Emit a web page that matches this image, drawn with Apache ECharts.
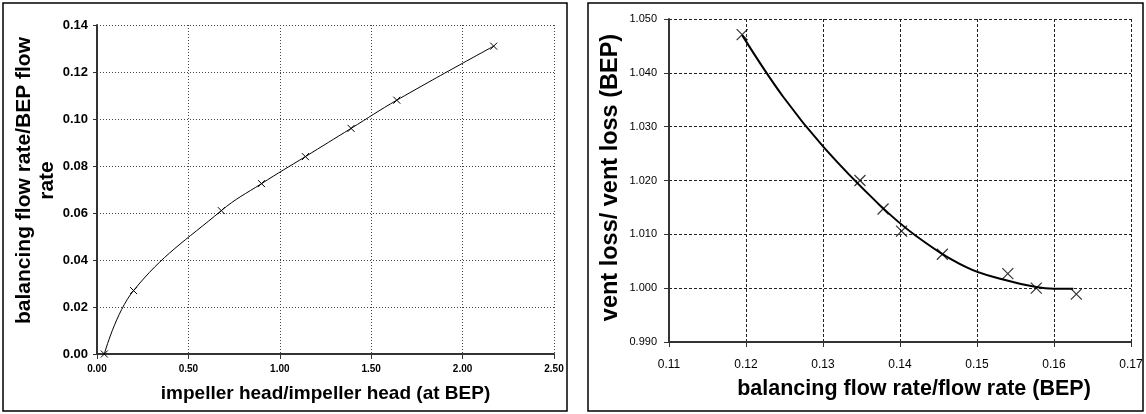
<!DOCTYPE html>
<html>
<head>
<meta charset="utf-8">
<script src="https://cdn.jsdelivr.net/npm/echarts@6/dist/echarts.min.js"></script>
<style>
html,body{margin:0;padding:0;background:#fff;}
#c{width:1146px;height:414px;}
</style>
</head>
<body>
<div id="c"></div>
<script>
// ---- Left chart data ----
var leftHead = [0.04, 0.20, 0.68, 0.90, 1.14, 1.39, 1.64, 2.17];
var leftFlow = [0.000, 0.027, 0.061, 0.0725, 0.084, 0.096, 0.108, 0.131];
var leftXTitle = 'impeller head/impeller head (at BEP)';
var leftYTitle = 'balancing flow rate/BEP flow\nrate';

// ---- Right chart data ----
var rightFlow = [0.1195, 0.1348, 0.1378, 0.1402, 0.1455, 0.1540, 0.1577, 0.1629];
var rightLoss = [1.0471, 1.0200, 1.0147, 1.0106, 1.0063, 1.0027, 1.0000, 0.9989];
var rightCurveX = [0.1195, 0.1248, 0.1302, 0.1371, 0.1421, 0.1486, 0.1534, 0.1577, 0.1600, 0.1625];
var rightCurveY = [1.0470, 1.0356, 1.0260, 1.0158, 1.0097, 1.0039, 1.0016, 1.0002, 0.9999, 0.9999];
var rightXTitle = 'balancing flow rate/flow rate (BEP)';
var rightYTitle = 'vent loss/ vent loss (BEP)';

function zip(a, b) { return a.map(function (v, i) { return [v, b[i]]; }); }

var FONT = 'Liberation Sans, Arial, sans-serif';
var crossSym = 'path://M0,0L10,10M10,0L0,10';

var chart = echarts.init(document.getElementById('c'), null, { renderer: 'canvas' });
chart.setOption({
  animation: false,
  backgroundColor: '#fff',
  textStyle: { fontFamily: FONT },
  graphic: [
    { type: 'rect', shape: { x: 3, y: 3, width: 564, height: 408 }, style: { fill: 'none', stroke: '#000', lineWidth: 1.5 } },
    { type: 'rect', shape: { x: 588, y: 3, width: 555, height: 408 }, style: { fill: 'none', stroke: '#000', lineWidth: 1.5 } }
  ],
  grid: [
    { left: 97, right: 592, top: 25, bottom: 60 },
    { left: 669, right: 15, top: 19, bottom: 72 }
  ],
  xAxis: [
    {
      gridIndex: 0, type: 'value', min: 0, max: 2.5, interval: 0.5,
      name: leftXTitle, nameLocation: 'middle', nameGap: 30,
      nameTextStyle: { fontFamily: FONT, fontSize: 19, fontWeight: 'bold', color: '#000' },
      axisLine: { show: true, onZero: false, lineStyle: { color: '#333', width: 2 } },
      axisTick: { show: true, inside: false, length: 5, lineStyle: { color: '#333' } },
      axisLabel: { margin: 10, fontFamily: FONT, fontSize: 10, fontWeight: 'bold', color: '#000',
        formatter: function (v) { return v.toFixed(2); } },
      splitLine: { show: true, lineStyle: { color: '#444', width: 1, type: [1, 2] } }
    },
    {
      gridIndex: 1, type: 'value', min: 0.11, max: 0.17, interval: 0.01,
      name: rightXTitle, nameLocation: 'middle', nameGap: 36,
      nameTextStyle: { fontFamily: FONT, fontSize: 21.5, fontWeight: 'bold', color: '#000', padding: [0, 0, 0, 28] },
      axisLine: { show: true, onZero: false, lineStyle: { color: '#333', width: 2 } },
      axisTick: { show: true, inside: false, length: 5, lineStyle: { color: '#333' } },
      axisLabel: { margin: 17, fontFamily: FONT, fontSize: 12, color: '#000',
        formatter: function (v) { return v.toFixed(2); } },
      splitLine: { show: true, lineStyle: { color: '#222', width: 1, type: [3, 2] } }
    }
  ],
  yAxis: [
    {
      gridIndex: 0, type: 'value', min: 0, max: 0.14, interval: 0.02,
      name: leftYTitle, nameLocation: 'middle', nameGap: 34, nameRotate: 90,
      nameTextStyle: { fontFamily: FONT, fontSize: 21, fontWeight: 'bold', color: '#000', lineHeight: 23, padding: [0, 0, 0, 18] },
      axisLine: { show: true, onZero: false, lineStyle: { color: '#333', width: 2 } },
      axisTick: { show: true, inside: false, length: 4, lineStyle: { color: '#333' } },
      axisLabel: { margin: 9, fontFamily: FONT, fontSize: 13, fontWeight: 'bold', color: '#000',
        formatter: function (v) { return v.toFixed(2); } },
      splitLine: { show: true, lineStyle: { color: '#444', width: 1, type: [1, 2] } }
    },
    {
      gridIndex: 1, type: 'value', min: 0.99, max: 1.05, interval: 0.01,
      name: rightYTitle, nameLocation: 'middle', nameGap: 46, nameRotate: 90,
      nameTextStyle: { fontFamily: FONT, fontSize: 23.5, fontWeight: 'bold', color: '#000', padding: [0, 0, 0, 6] },
      axisLine: { show: true, onZero: false, lineStyle: { color: '#333', width: 2 } },
      axisTick: { show: true, inside: false, length: 5, lineStyle: { color: '#333' } },
      axisLabel: { margin: 12, fontFamily: FONT, fontSize: 11, color: '#000',
        formatter: function (v) { return v.toFixed(3); } },
      splitLine: { show: true, lineStyle: { color: '#222', width: 1, type: [3, 2] } }
    }
  ],
  series: [
    {
      type: 'line', xAxisIndex: 0, yAxisIndex: 0,
      data: zip(leftHead, leftFlow),
      smooth: 0.4,
      lineStyle: { color: '#000', width: 1 },
      symbol: crossSym, symbolSize: 7,
      itemStyle: { color: 'rgba(0,0,0,0)', borderColor: '#000', borderWidth: 1 },
      z: 5
    },
    {
      type: 'line', xAxisIndex: 1, yAxisIndex: 1,
      data: zip(rightCurveX, rightCurveY),
      smooth: 0.4, showSymbol: false, symbol: 'none',
      lineStyle: { color: '#000', width: 2 },
      z: 4
    },
    {
      type: 'scatter', xAxisIndex: 1, yAxisIndex: 1,
      data: zip(rightFlow, rightLoss),
      symbol: crossSym, symbolSize: 11,
      itemStyle: { color: 'rgba(0,0,0,0)', borderColor: '#000', borderWidth: 1.2 },
      z: 5
    }
  ]
});
</script>
</body>
</html>
